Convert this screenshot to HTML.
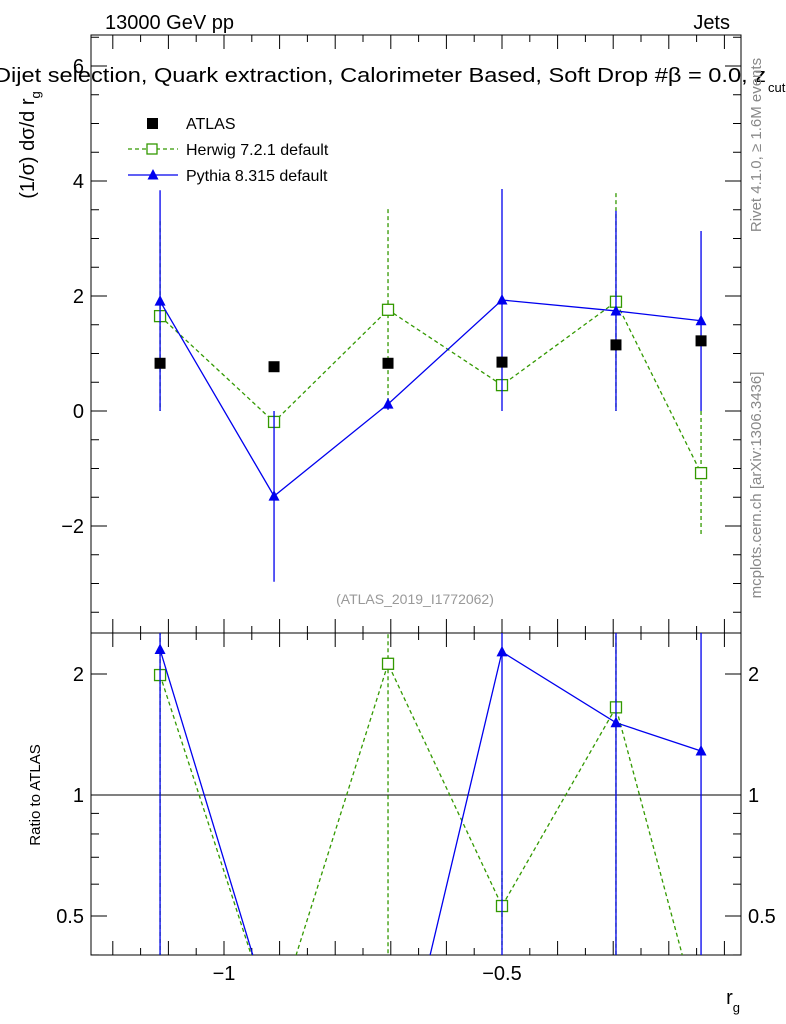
<!DOCTYPE html>
<html><head><meta charset="utf-8"><style>
html,body{margin:0;padding:0;background:#fff;overflow:hidden;}
svg{font-family:"Liberation Sans",sans-serif;display:block;}
</style></head><body>
<svg id="c" width="786" height="1024" xmlns="http://www.w3.org/2000/svg">
<text x="105" y="29" font-size="20">13000 GeV pp</text>
<text x="730" y="29" font-size="20" text-anchor="end">Jets</text>
<text x="-6" y="82" font-size="20" textLength="772" lengthAdjust="spacingAndGlyphs">Dijet selection, Quark extraction, Calorimeter Based, Soft Drop #β = 0.0, z</text>
<text x="768" y="92" font-size="13">cut</text>
<text transform="translate(34,145) rotate(-90)" font-size="20" text-anchor="middle">(1/σ) dσ/d r<tspan font-size="13" dy="6">g</tspan></text>
<text transform="translate(40,795) rotate(-90)" font-size="15" text-anchor="middle">Ratio to ATLAS</text>
<text x="740" y="1004" font-size="20" text-anchor="end">r<tspan font-size="13" dy="8">g</tspan></text>
<text transform="translate(761,145) rotate(-90)" font-size="15" fill="#888" text-anchor="middle">Rivet 4.1.0, ≥ 1.6M events</text>
<text transform="translate(761,485) rotate(-90)" font-size="15" fill="#888" text-anchor="middle">mcplots.cern.ch [arXiv:1306.3436]</text>
<text x="415" y="604" font-size="14" fill="#999" text-anchor="middle">(ATLAS_2019_I1772062)</text>
<g id="g"></g>
</svg>
<script>
const xs=[-1.115,-0.91,-0.705,-0.5,-0.295,-0.142];
const atlas=[0.83,0.77,0.83,0.85,1.15,1.22];
const herwig=[1.65,-0.19,1.76,0.45,1.9,-1.08];
const herwigUp=[1.65,0.1,1.75,0.1,1.89,1.08];
const herwigDn=[1.65,0.1,1.76,0.1,1.9,1.09];
const pythia=[1.91,-1.48,0.12,1.93,1.74,1.57];
const pythiaUp=[1.93,1.48,0.1,1.93,1.74,1.56];
const pythiaDn=[1.91,1.49,0.1,1.93,1.74,1.57];
const mainTicks=[-2,0,2,4,6];
const ratioTicks=[0.5,1,2];
const xTicks=[-1,-0.5];

const NS="http://www.w3.org/2000/svg",g=document.getElementById('g');
const L=91,R=741,T=35,M=633,B=955;
const X=v=>224+(v+1)*556;
const Y=v=>411-v*57.5;
const RY=v=>v>0?Math.min(795-Math.log2(v)*121,B+1000):B+70;
function el(t,a,name,p){const e=document.createElementNS(NS,t);for(const k in a)e.setAttribute(k,a[k]);


(p||g).appendChild(e);return e;}
el('rect',{x:L,y:T,width:R-L,height:M-T,fill:'none',stroke:'#000','stroke-width':1},'main-frame');
el('rect',{x:L,y:M,width:R-L,height:B-M,fill:'none',stroke:'#000','stroke-width':1},'ratio-frame');
for(let k=-24;k<=-1;k++){const v=k*0.05;const px=X(v);if(px<L||px>R)continue;const maj=(k%2===0);const len=maj?14:7;
[[T,1],[M,-1],[M,1],[B,-1]].forEach(([y,d])=>el('line',{x1:px,x2:px,y1:y,y2:y+d*len,stroke:'#000'},'x-tick'));}
xTicks.forEach(v=>{const t=el('text',{x:X(v),y:980,'font-size':20,'text-anchor':'middle'},'x-tick-label');t.textContent=v==-1?'−1':'−0.5';});
for(let v=-3.5;v<=6.5;v+=0.5){const py=Y(v);if(py<T||py>M)continue;const maj=Number.isInteger(v)&&v%2==0;const len=maj?16:8;
el('line',{x1:L,x2:L+len,y1:py,y2:py,stroke:'#000'},'y-tick');el('line',{x1:R,x2:R-len,y1:py,y2:py,stroke:'#000'},'y-tick');}
mainTicks.forEach(v=>{const t=el('text',{x:84,y:Y(v)+7,'font-size':20,'text-anchor':'end'},'y-tick-label');t.textContent=v<0?'−'+(-v):v;});
[0.4,0.5,0.6,0.7,0.8,0.9,1,2].forEach(v=>{const py=RY(v);const maj=ratioTicks.includes(v);const len=maj?16:8;
el('line',{x1:L,x2:L+len,y1:py,y2:py,stroke:'#000'},'ratio-tick');el('line',{x1:R,x2:R-len,y1:py,y2:py,stroke:'#000'},'ratio-tick');});
ratioTicks.forEach(v=>{[[84,'end'],[748,'start']].forEach(([x,a])=>{const t=el('text',{x:x,y:RY(v)+7,'font-size':20,'text-anchor':a},'ratio-tick-label');t.textContent=v;});});
el('line',{x1:L,x2:R,y1:RY(1),y2:RY(1),stroke:'#000'},'ratio-unity-line');
const defs=el('defs',{},'defs');
const c1=el('clipPath',{id:'cm'},'clip-main',defs);el('rect',{x:L,y:T,width:R-L,height:M-T},'clip-rect',c1);
const c2=el('clipPath',{id:'cr'},'clip-ratio',defs);el('rect',{x:L,y:M,width:R-L,height:B-M},'clip-rect',c2);
const gm=el('g',{'clip-path':'url(#cm)'},'main-plot');
const gr=el('g',{'clip-path':'url(#cr)'},'ratio-plot');
function series(vals,up,dn,col,dash,marker,name){
 const pts=xs.map((x,i)=>X(x)+','+Y(vals[i])).join(' ');
 el('polyline',{points:pts,fill:'none',stroke:col,'stroke-width':1.3,'stroke-dasharray':dash},name+'-line',gm);
 const rv=vals.map((v,i)=>v/atlas[i]);
 const rp=xs.map((x,i)=>X(x)+','+RY(rv[i])).join(' ');
 el('polyline',{points:rp,fill:'none',stroke:col,'stroke-width':1.3,'stroke-dasharray':dash},name+'-ratio-line',gr);
 xs.forEach((x,i)=>{const px=X(x);
  el('line',{x1:px,x2:px,y1:Y(vals[i]+up[i]),y2:Y(vals[i]-dn[i]),stroke:col,'stroke-width':1.3,'stroke-dasharray':dash},name+'-error-bar',gm);
  const hi=(vals[i]+up[i])/atlas[i],lo=(vals[i]-dn[i])/atlas[i];
  el('line',{x1:px,x2:px,y1:hi>0?RY(hi):B+70,y2:lo>0?RY(lo):B+70,stroke:col,'stroke-width':1.3,'stroke-dasharray':dash},name+'-ratio-error-bar',gr);
  [[gm,Y(vals[i])],[gr,RY(rv[i])]].forEach(([p,py])=>marker(px,py,p));});
}
const sq=(px,py,p)=>el('rect',{x:px-5.5,y:py-5.5,width:11,height:11,fill:'#fff',stroke:'#339900','stroke-width':1.3},'herwig-marker',p);
const tri=(px,py,p)=>el('polygon',{points:`${px},${py-6} ${px-5.5},${py+4.5} ${px+5.5},${py+4.5}`,fill:'#0000ee'},'pythia-marker',p);
series(herwig,herwigUp,herwigDn,'#339900','4,3',sq,'herwig');
series(pythia,pythiaUp,pythiaDn,'#0000ee','',tri,'pythia');
xs.forEach((x,i)=>el('rect',{x:X(x)-5.5,y:Y(atlas[i])-5.5,width:11,height:11,fill:'#000'},'atlas-marker',gm));
el('rect',{x:147,y:118,width:11,height:11,fill:'#000'},'legend-atlas-marker');
el('line',{x1:128,x2:178,y1:149,y2:149,stroke:'#339900','stroke-dasharray':'4,3','stroke-width':1.3},'legend-herwig-line');
el('rect',{x:147,y:144,width:10,height:10,fill:'#fff',stroke:'#339900','stroke-width':1.3},'legend-herwig-marker');
el('line',{x1:128,x2:178,y1:175,y2:175,stroke:'#0000ee','stroke-width':1.3},'legend-pythia-line');
el('polygon',{points:'153,169 147.5,179.5 158.5,179.5',fill:'#0000ee'},'legend-pythia-marker');
[['ATLAS',129],['Herwig 7.2.1 default',155],['Pythia 8.315 default',181]].forEach(([s,y])=>{const t=el('text',{x:186,y:y,'font-size':16},'legend-entry');t.textContent=s;});
</script>
</body></html>
